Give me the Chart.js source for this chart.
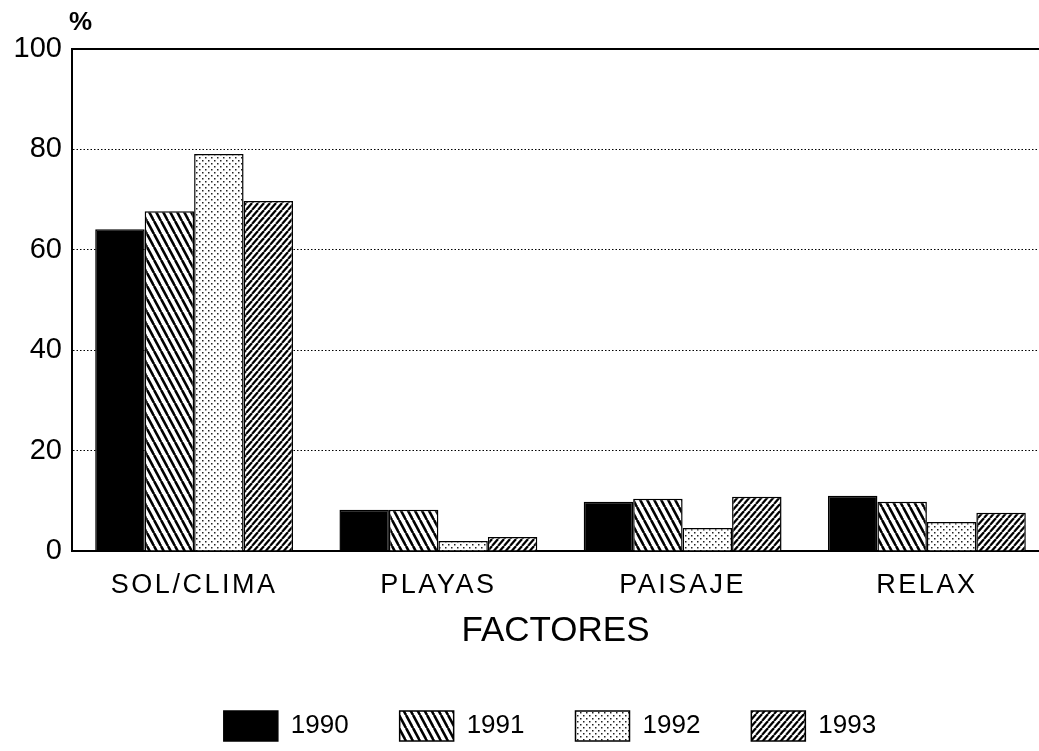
<!DOCTYPE html>
<html>
<head>
<meta charset="utf-8">
<title>Factores</title>
<script src="https://cdn.jsdelivr.net/npm/chart.js@4.4.1/dist/chart.umd.min.js"></script>
<style>
    html, body { margin: 0; padding: 0; background: #fff; }
    #wrap { width: 1039px; height: 751px; position: relative; }
</style>
</head>
<body>
<div id="wrap"><canvas id="chart"></canvas></div>
<script>
// datos (%)
const factores = ['SOL/CLIMA', 'PLAYAS', 'PAISAJE', 'RELAX'];
const anios = ['1990', '1991', '1992', '1993'];
const v1990 = [64.1, 8.2, 9.8, 11.0];
const v1991 = [67.7, 8.2, 10.4, 9.8];
const v1992 = [79.1, 2.0, 4.6, 5.8];
const v1993 = [69.7, 2.8, 10.8, 7.6];
const yTicks = [0, 20, 40, 60, 80, 100];

const FONT = '"Liberation Sans", Arial, Helvetica, sans-serif';

// tramas en blanco y negro
function hatch(dir, w, h, lw) {
    const c = document.createElement('canvas');
    c.width = w; c.height = h;
    const g = c.getContext('2d');
    g.fillStyle = '#fff';
    g.fillRect(0, 0, w, h);
    g.strokeStyle = '#000';
    g.lineWidth = lw;
    for (let k = -1; k <= 1; k++) {
        g.beginPath();
        if (dir === 'back') { g.moveTo(k * w, 0); g.lineTo(k * w + w, h); }
        else { g.moveTo(k * w, h); g.lineTo(k * w + w, 0); }
        g.stroke();
    }
    return g.createPattern(c, 'repeat');
}

function dots(size, r) {
    const c = document.createElement('canvas');
    c.width = size; c.height = size;
    const g = c.getContext('2d');
    g.fillStyle = '#fff';
    g.fillRect(0, 0, size, size);
    g.fillStyle = '#222';
    g.fillRect(1, 1, r, r);
    g.fillRect(1 + size / 2, 1 + size / 2, r, r);
    return g.createPattern(c, 'repeat');
}

const fills = ['#000', hatch('back', 7, 13, 2.6), dots(6, 1.5), hatch('fwd', 6, 7, 2.2)];
const series = [v1990, v1991, v1992, v1993];

// eje X: letras espaciadas y el área de categorías algo más allá del borde derecho
class SpacedCategoryScale extends Chart.CategoryScale {
    configure() {
        super.configure();
        this._endPixel += 10;
        this._length = this._endPixel - this._startPixel;
    }
    drawLabels(area) {
        this.ctx.save();
        this.ctx.letterSpacing = '2.5px';
        super.drawLabels(area);
        this.ctx.restore();
    }
}
SpacedCategoryScale.id = 'spacedCategory';
SpacedCategoryScale.defaults = Chart.CategoryScale.defaults;

// eje Y sin recorte de etiquetas
class FreeLinearScale extends Chart.LinearScale {
    _computeLabelArea() { return undefined; }
}
FreeLinearScale.id = 'freeLinear';
FreeLinearScale.defaults = Chart.LinearScale.defaults;

Chart.register(SpacedCategoryScale, FreeLinearScale);

const percentSign = {
    id: 'percentSign',
    afterDraw(chart) {
        const { ctx, chartArea } = chart;
        ctx.save();
        ctx.font = 'bold 26px ' + FONT;
        ctx.fillStyle = '#000';
        ctx.textAlign = 'left';
        ctx.textBaseline = 'alphabetic';
        ctx.fillText('%', chartArea.left - 3, chartArea.top - 19);
        ctx.restore();
    }
};

new Chart(document.getElementById('chart'), {
    type: 'bar',
    data: {
        labels: factores,
        datasets: anios.map((a, i) => ({
            label: a,
            data: series[i],
            backgroundColor: fills[i],
            borderColor: '#000',
            borderWidth: 1.5,
            borderSkipped: 'bottom',
            barPercentage: 1,
            categoryPercentage: 0.81
        }))
    },
    options: {
        responsive: true,
        maintainAspectRatio: false,
        animation: false,
        devicePixelRatio: 1,
        layout: { padding: { left: 61, right: 0, top: 49, bottom: 0 } },
        plugins: {
            tooltip: { enabled: false },
            legend: {
                position: 'bottom',
                labels: {
                    boxWidth: 54,
                    boxHeight: 30,
                    padding: 51,
                    color: '#000',
                    font: { family: FONT, size: 26 }
                }
            }
        },
        scales: {
            x: {
                type: 'spacedCategory',
                afterFit: s => { s.height = 109; },
                grid: { display: false, drawTicks: false },
                border: { display: true, color: '#000', width: 2 },
                ticks: {
                    color: '#000',
                    padding: 18,
                    font: { family: FONT, size: 27 }
                },
                title: {
                    display: true,
                    text: 'FACTORES',
                    color: '#000',
                    font: { family: FONT, size: 35, lineHeight: 1 },
                    padding: { top: 9, bottom: 11 }
                }
            },
            x2: {
                type: 'category',
                position: 'top',
                grid: { display: false, drawTicks: false },
                ticks: { display: false },
                border: { display: true, color: '#000', width: 2 }
            },
            y: {
                type: 'freeLinear',
                min: 0,
                max: 100,
                afterBuildTicks: s => { s.ticks = yTicks.map(v => ({ value: v })); },
                afterFit: s => { s.width = 11; },
                grid: { color: '#000', lineWidth: 1, drawTicks: false, borderDash: [1.5, 2] },
                border: { display: true, color: '#000', width: 2, dash: [1.5, 2] },
                ticks: {
                    color: '#000',
                    padding: 10,
                    font: { family: FONT, size: 29 }
                }
            }
        }
    },
    plugins: [percentSign]
});
</script>
</body>
</html>
